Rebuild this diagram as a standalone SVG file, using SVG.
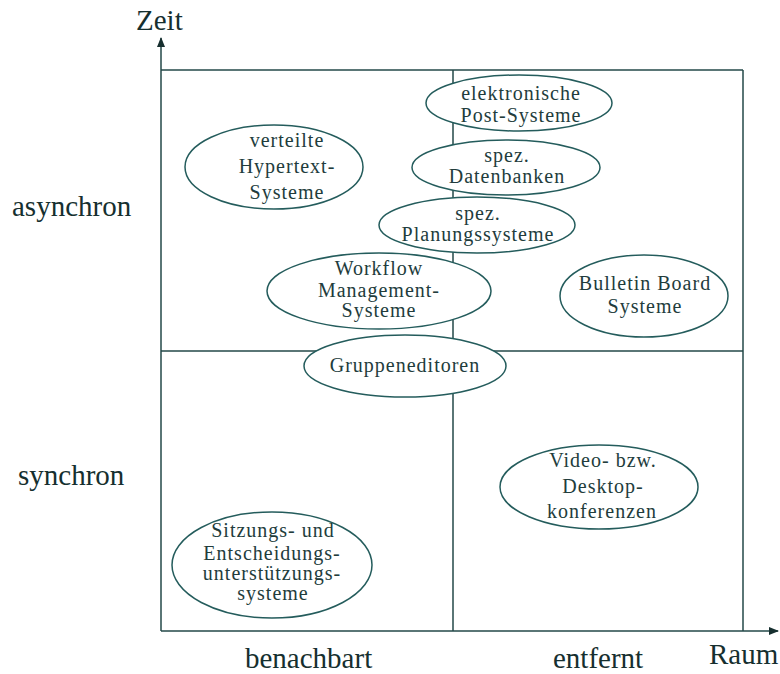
<svg xmlns="http://www.w3.org/2000/svg" width="780" height="674" viewBox="0 0 780 674">
  <style>
    .grid { stroke: #234848; stroke-width: 1.5; fill: none; }
    .node ellipse { fill: #ffffff; stroke: #245c5c; stroke-width: 1.5; }
    .node text { font-family: "Liberation Serif", "Times New Roman", serif; font-size: 20px; letter-spacing: 1px; fill: #223c3c; text-anchor: middle; }
    .axis-label { font-family: "Liberation Serif", "Times New Roman", serif; font-size: 29px; fill: #162f2f; }
  </style>
  <defs>
    <marker id="arrow" markerWidth="10" markerHeight="10" refX="9" refY="5" orient="auto" markerUnits="userSpaceOnUse">
      <path d="M0,1 L10,5 L0,9 z" fill="#162f2f"/>
    </marker>
  </defs>

  <rect width="780" height="674" fill="#ffffff"/>

  <!-- quadrant grid and axes -->
  <g id="connectors">
    <line class="grid" x1="161" y1="631" x2="161" y2="38" marker-end="url(#arrow)"/>
    <line class="grid" x1="161" y1="631" x2="778" y2="631" marker-end="url(#arrow)"/>
    <line class="grid" x1="161" y1="70" x2="743" y2="70"/>
    <line class="grid" x1="743" y1="70" x2="743" y2="631"/>
    <line class="grid" x1="453" y1="70" x2="453" y2="631"/>
    <line class="grid" x1="161" y1="351" x2="743" y2="351"/>
  </g>

  <!-- axis labels -->
  <g id="axis-labels">
    <text class="axis-label" x="136" y="30">Zeit</text>
    <text class="axis-label" x="12" y="216">asynchron</text>
    <text class="axis-label" x="18" y="485">synchron</text>
    <text class="axis-label" x="245" y="668">benachbart</text>
    <text class="axis-label" x="553" y="668">entfernt</text>
    <text class="axis-label" x="709" y="664">Raum</text>
  </g>

  <g id="node-email" class="node">
    <ellipse cx="519" cy="103" rx="93" ry="28"/>
    <text x="521" y="100">elektronische</text>
    <text x="521" y="122">Post-Systeme</text>
  </g>

  <g id="node-datenbanken" class="node">
    <ellipse cx="506" cy="167.5" rx="94" ry="27.5"/>
    <text x="507" y="162">spez.</text>
    <text x="507" y="183">Datenbanken</text>
  </g>

  <g id="node-planung" class="node">
    <ellipse cx="477" cy="225" rx="98" ry="28"/>
    <text x="478" y="220">spez.</text>
    <text x="478" y="241">Planungssysteme</text>
  </g>

  <g id="node-hypertext" class="node">
    <ellipse cx="274" cy="167" rx="89" ry="42"/>
    <text x="287" y="147">verteilte</text>
    <text x="287" y="173">Hypertext-</text>
    <text x="287" y="199">Systeme</text>
  </g>

  <g id="node-workflow" class="node">
    <ellipse cx="379" cy="291" rx="112" ry="38"/>
    <text x="379" y="275">Workflow</text>
    <text x="379" y="297">Management-</text>
    <text x="379" y="317">Systeme</text>
  </g>

  <g id="node-gruppeneditoren" class="node">
    <ellipse cx="405" cy="366" rx="101" ry="31"/>
    <text x="405" y="372">Gruppeneditoren</text>
  </g>

  <g id="node-bulletin" class="node">
    <ellipse cx="644" cy="296" rx="84" ry="41"/>
    <text x="645" y="290">Bulletin Board</text>
    <text x="645" y="313">Systeme</text>
  </g>

  <g id="node-video" class="node">
    <ellipse cx="599" cy="487" rx="99" ry="42"/>
    <text x="603" y="467">Video- bzw.</text>
    <text x="603" y="493">Desktop-</text>
    <text x="602" y="518">konferenzen</text>
  </g>

  <g id="node-sitzung" class="node">
    <ellipse cx="272" cy="565" rx="100" ry="53"/>
    <text x="273" y="537">Sitzungs- und</text>
    <text x="272" y="560">Entscheidungs-</text>
    <text x="272" y="580">unterstützungs-</text>
    <text x="273" y="600">systeme</text>
  </g>
</svg>
